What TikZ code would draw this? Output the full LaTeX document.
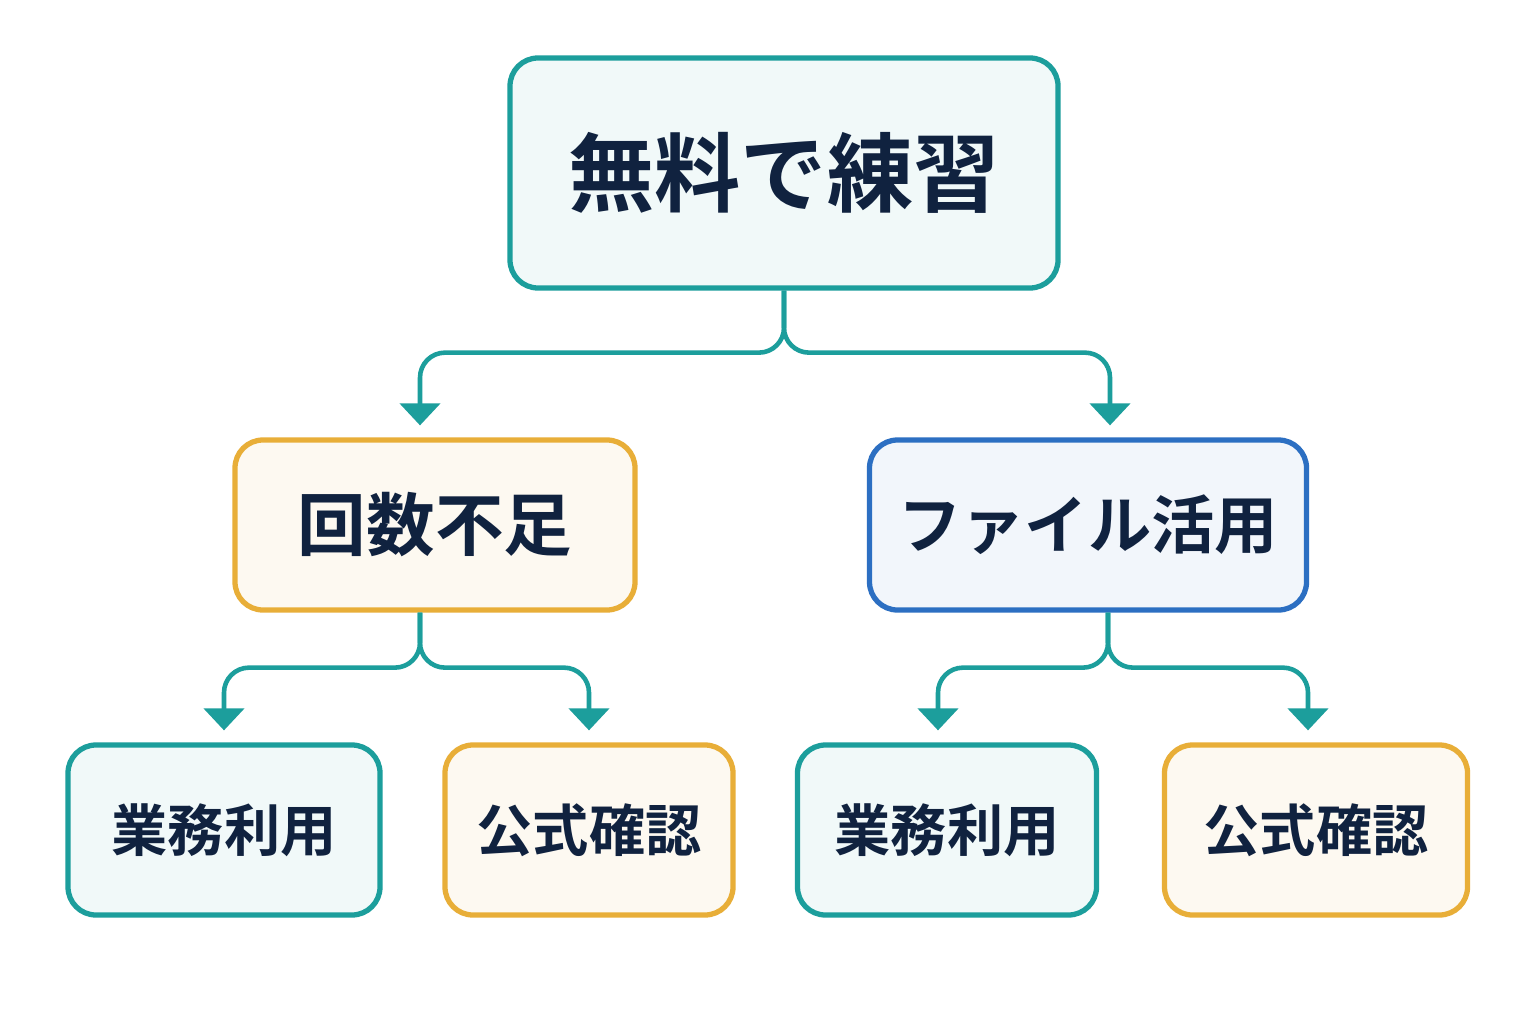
\documentclass[tikz,border=0pt]{standalone}
\usepackage{fontspec}
\setmainfont{Noto Sans CJK JP}[BoldFont={* Bold}]
\usetikzlibrary{positioning,arrows.meta}
\definecolor{ink}{HTML}{10223F}
\definecolor{teal}{HTML}{1C9E9C}
\definecolor{amber}{HTML}{E8AE38}
\definecolor{royal}{HTML}{2C6FC2}
\tikzset{
  box/.style={draw, line width=1.5pt, rounded corners=0.28cm, align=center,
    text=ink, font=\bfseries},
  tealbox/.style={box, draw=teal, fill=teal!6},
  amberbox/.style={box, draw=amber, fill=amber!7},
  bluebox/.style={box, draw=royal, fill=royal!6},
  conn/.style={draw=teal, line width=1.3pt, rounded corners=0.25cm,
    -{Triangle[width=0.4cm,length=0.22cm]}, shorten >=0.12cm}
}
\begin{document}
\begin{tikzpicture}
\useasboundingbox[fill=white] (0,0) rectangle (15.36,10.24);

% nodes
\node[tealbox, minimum width=5.48cm, minimum height=2.3cm,
  font=\bfseries\fontsize{24.5}{29}\selectfont] (top) at (7.84,8.51) {無料で練習};
\node[amberbox, minimum width=4.0cm, minimum height=1.7cm,
  font=\bfseries\fontsize{19.5}{23}\selectfont] (lack) at (4.35,4.99) {回数不足};
\node[bluebox, minimum width=4.37cm, minimum height=1.7cm,
  font=\bfseries\fontsize{18}{22}\selectfont] (file) at (10.88,4.99) {ファイル活用};
\node[tealbox, minimum width=3.12cm, minimum height=1.7cm,
  font=\bfseries\fontsize{16}{20}\selectfont] (bizL) at (2.24,1.94) {業務利用};
\node[amberbox, minimum width=2.88cm, minimum height=1.7cm,
  font=\bfseries\fontsize{16}{20}\selectfont] (offL) at (5.89,1.94) {公式確認};
\node[tealbox, minimum width=2.99cm, minimum height=1.7cm,
  font=\bfseries\fontsize{16}{20}\selectfont] (bizR) at (9.47,1.94) {業務利用};
\node[amberbox, minimum width=3.03cm, minimum height=1.7cm,
  font=\bfseries\fontsize{16}{20}\selectfont] (offR) at (13.16,1.94) {公式確認};

% connectors
\draw[conn] (top.south) -- ++(0,-0.62) -| ([xshift=-0.15cm]lack.north);
\draw[conn] (top.south) -- ++(0,-0.62) -| ([xshift=0.22cm]file.north);
\draw[conn] ([xshift=-0.15cm]lack.south) -- ++(0,-0.55) -| (bizL.north);
\draw[conn] ([xshift=-0.15cm]lack.south) -- ++(0,-0.55) -| (offL.north);
\draw[conn] ([xshift=0.2cm]file.south) -- ++(0,-0.55) -| ([xshift=-0.09cm]bizR.north);
\draw[conn] ([xshift=0.2cm]file.south) -- ++(0,-0.55) -| ([xshift=-0.08cm]offR.north);
\end{tikzpicture}
\end{document}
